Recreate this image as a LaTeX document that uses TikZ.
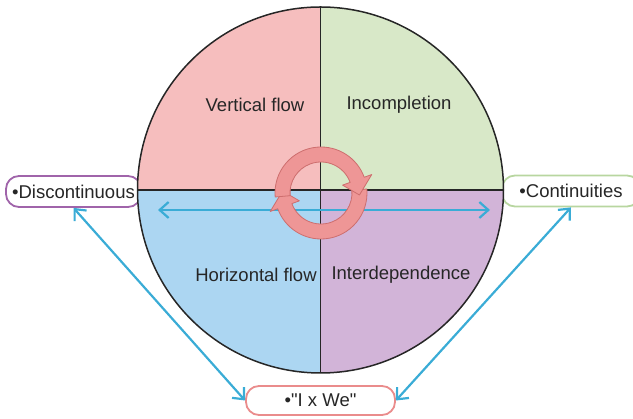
\documentclass[tikz,border=0pt]{standalone}
\usepackage{fontspec}
\setmainfont{Liberation Sans}[Ligatures=TeXOff]
\usetikzlibrary{arrows.meta,calc}
\definecolor{qpink}{RGB}{246,190,190}
\definecolor{qgreen}{RGB}{216,232,200}
\definecolor{qblue}{RGB}{172,214,242}
\definecolor{qpurple}{RGB}{210,180,216}
\definecolor{arrblue}{RGB}{58,172,214}
\definecolor{bpurple}{RGB}{160,100,170}
\definecolor{bgreen}{RGB}{184,214,160}
\definecolor{bpink}{RGB}{234,140,140}
\definecolor{cfill}{RGB}{238,150,150}
\definecolor{cdraw}{RGB}{205,110,110}
\tikzset{
  lbl/.style={font=\fontsize{18.5}{22}\selectfont, text=black!85},
  sidebox/.style={draw, line width=1.8pt, rounded corners=13pt, fill=white, minimum height=31pt, inner sep=0pt, font=\fontsize{18.5}{22}\selectfont, text=black!85},
  bluearrow/.style={draw=arrblue, line width=2.2pt, {Straight Barb[length=9pt,width=16pt]}-{Straight Barb[length=9pt,width=16pt]}},
  cyc/.style={fill=cfill, draw=cdraw, line width=0.8pt, line join=round}
}
\begin{document}
\begin{tikzpicture}[x=1pt,y=1pt]
\useasboundingbox (0,0) rectangle (633,419);
% side boxes (behind circle)
\node[sidebox, draw=bpurple, minimum width=135pt] (disc) at (73.5,227.5) {•Discontinuous};
\node[sidebox, draw=bgreen, minimum width=138pt] (cont) at (571,228) {•Continuities};
% quadrants
\coordinate (c) at (320.5,229);
\fill[qpink] (c) -- ++(90:183) arc[start angle=90,end angle=180,radius=183] -- cycle;
\fill[qgreen] (c) -- ++(0:183) arc[start angle=0,end angle=90,radius=183] -- cycle;
\fill[qblue] (c) -- ++(180:183) arc[start angle=180,end angle=270,radius=183] -- cycle;
\fill[qpurple] (c) -- ++(270:183) arc[start angle=270,end angle=360,radius=183] -- cycle;
\draw[line width=1.5pt, black!85] (c) circle[radius=183];
\draw[line width=1.5pt, black!85] ($(c)+(-183,0)$) -- ($(c)+(183,0)$);
\draw[line width=1.5pt, black!85] ($(c)+(0,183)$) -- ($(c)+(0,-183)$);
% labels
\node[lbl] (vf) at (255,314) {Vertical flow};
\node[lbl] (inc) at (399,314) {Incompletion};
\node[lbl] (hf) at (256,144) {Horizontal flow};
\node[lbl] (intd) at (401,144) {Interdependence};
% horizontal arrow
\coordinate (hl) at (158,209);
\coordinate (hr) at (490,209);
\draw[bluearrow] (hl) -- (hr);
% cycle arrows
\begin{scope}[shift={(321,226)}]
\fill[cyc] (5:46) arc[start angle=5,end angle=-160,radius=46] -- (-160:54) -- (-183:38.5) -- (-160:23) -- (-160:31) arc[start angle=-160,end angle=5,radius=31] -- cycle;
\fill[cyc] (185:46) arc[start angle=185,end angle=20,radius=46] -- (20:54) -- (-3:38.5) -- (20:23) -- (20:31) arc[start angle=20,end angle=185,radius=31] -- cycle;
\end{scope}
% bottom box
\node[sidebox, draw=bpink, minimum width=149pt, minimum height=29pt] (iwe) at (320.5,18.5) {•"I x We"};
% diagonal arrows
\draw[bluearrow] (disc.south) -- (iwe.west);
\draw[bluearrow] (cont.south) -- (iwe.east);
\end{tikzpicture}
\end{document}
